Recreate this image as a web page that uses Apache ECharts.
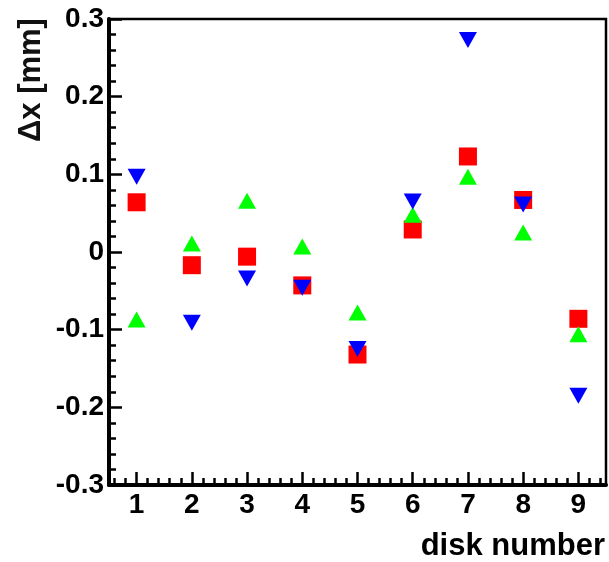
<!DOCTYPE html>
<html>
<head>
<meta charset="utf-8">
<script src="https://cdn.jsdelivr.net/npm/echarts@6/dist/echarts.min.js"></script>
<style>html,body{margin:0;padding:0;background:#fff}#c{width:609px;height:562px}</style>
</head>
<body>
<div id="c"></div>
<script>
var disks = [1, 2, 3, 4, 5, 6, 7, 8, 9];
var redSquares = [0.064, -0.017, -0.006, -0.043, -0.132, 0.029, 0.123, 0.067, -0.086];
var greenUp = [-0.087, 0.011, 0.066, 0.007, -0.078, 0.048, 0.097, 0.025, -0.106];
var blueDown = [0.097, -0.091, -0.034, -0.046, -0.125, 0.065, 0.273, 0.061, -0.185];
var xTickLabels = ['1', '2', '3', '4', '5', '6', '7', '8', '9'];
var yMin = -0.3, yMax = 0.3, yStep = 0.1;
var xMin = 0.5, xMax = 9.5;

var minorX = [];
for (var i = 3; i <= 47; i++) { if (i % 5 !== 0) minorX.push(Math.round(i * 0.2 * 10) / 10); }

function pairs(vals) { return disks.map(function (d, i) { return [d, vals[i]]; }); }

var FONT = 'Liberation Sans';
var chart = echarts.init(document.getElementById('c'), null, { renderer: 'canvas' });
chart.setOption({
  animation: false,
  backgroundColor: '#fff',
  grid: { left: 109, right: 3, top: 19, bottom: 77, show: true, borderColor: '#000', borderWidth: 2.5, backgroundColor: 'transparent' },
  xAxis: [{
    type: 'value', min: xMin, max: xMax,
    axisLine: { show: true, onZero: false, lineStyle: { color: '#000', width: 4 } },
    axisTick: { show: true, inside: true, length: 13, lineStyle: { color: '#000', width: 2.5 }, customValues: disks },
    axisLabel: { customValues: disks, formatter: function (v) { return xTickLabels[disks.indexOf(Math.round(v))] || ''; }, color: '#000', fontFamily: FONT, fontWeight: 'bold', fontSize: 28, margin: 6 },
    splitLine: { show: false },
    name: 'disk number', nameLocation: 'end', nameGap: -1,
    nameTextStyle: { align: 'right', verticalAlign: 'top', padding: [46, 0, 0, 0], color: '#000', fontFamily: FONT, fontWeight: 'bold', fontSize: 31 }
  }, {
    type: 'value', min: xMin, max: xMax, position: 'bottom',
    axisLine: { show: false, onZero: false },
    axisTick: { show: true, inside: true, length: 7, lineStyle: { color: '#000', width: 2.5 }, customValues: minorX },
    axisLabel: { show: false },
    splitLine: { show: false }
  }],
  yAxis: {
    type: 'value', min: yMin, max: yMax, interval: yStep,
    axisLine: { show: true, onZero: false, lineStyle: { color: '#000', width: 4 } },
    axisTick: { show: true, inside: true, length: 13, lineStyle: { color: '#000', width: 2.5 } },
    minorTick: { show: true, splitNumber: 5, length: 7, lineStyle: { color: '#000', width: 2.5 } },
    axisLabel: { color: '#000', fontFamily: FONT, fontWeight: 'bold', fontSize: 28, margin: 5,
      formatter: function (v) { var r = Math.round(v * 10) / 10; return r === 0 ? '0' : String(r); } },
    splitLine: { show: false }
  },
  graphic: [{
    type: 'text', x: 31, y: 142, rotation: Math.PI / 2,
    style: { text: 'Δx [mm]', textAlign: 'left', textVerticalAlign: 'middle', font: 'bold 31px "Liberation Sans"', fill: '#111' }
  }],
  series: [
    { type: 'scatter', xAxisIndex: 0, data: pairs(redSquares), symbol: 'rect', symbolSize: [18, 18], itemStyle: { color: '#ff0000', opacity: 1 }, z: 3 },
    { type: 'scatter', xAxisIndex: 0, data: pairs(greenUp), symbol: 'triangle', symbolSize: [18, 16], itemStyle: { color: '#00ff00', opacity: 1 }, z: 4 },
    { type: 'scatter', xAxisIndex: 0, data: pairs(blueDown), symbol: 'triangle', symbolRotate: 180, symbolSize: [18, 16], itemStyle: { color: '#0000ff', opacity: 1 }, z: 5 }
  ]
});
</script>
</body>
</html>
